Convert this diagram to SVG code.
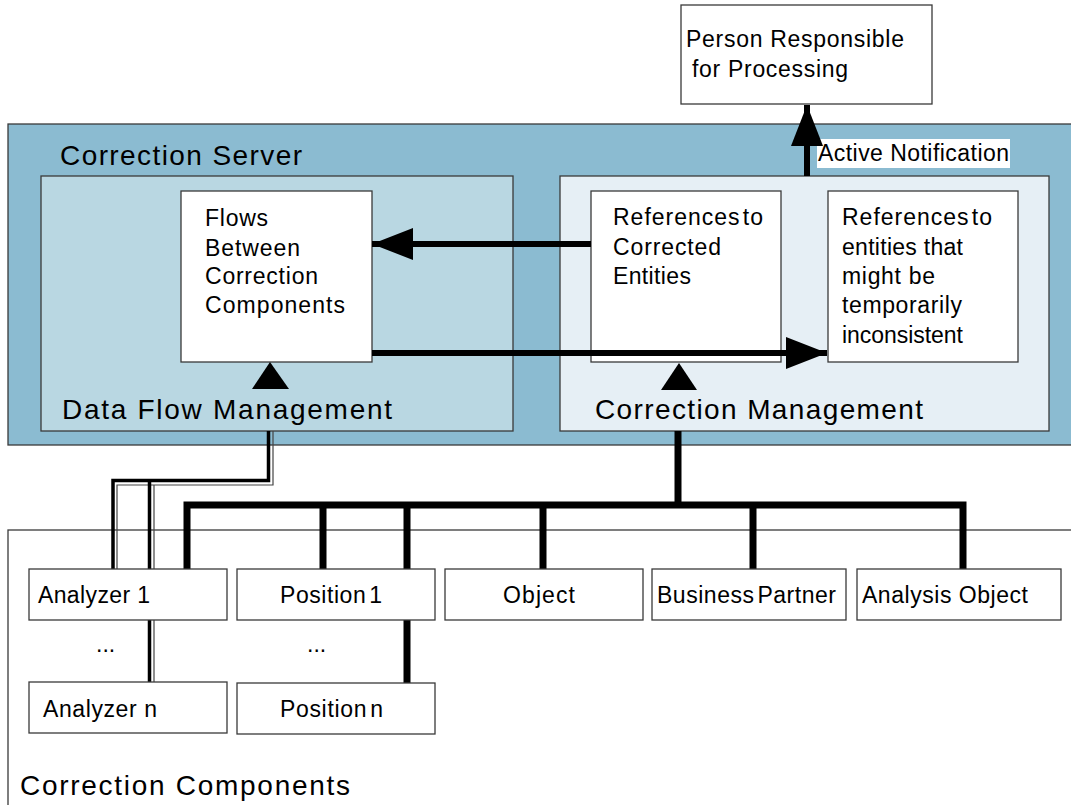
<svg xmlns="http://www.w3.org/2000/svg" width="1071" height="805" viewBox="0 0 1071 805">
<style>
  .box { fill: #ffffff; stroke: #3a3a3a; stroke-width: 1.3; }
  .t { font-family: "Liberation Sans", Arial, sans-serif; font-size: 23px; fill: #000; }
  .big { font-family: "Liberation Sans", Arial, sans-serif; font-size: 28px; fill: #000; }
  .thick { fill: none; stroke: #000; stroke-width: 7; }
  .arrow { fill: none; stroke: #000; stroke-width: 6; }
  .dbl { fill: none; stroke: #000; stroke-width: 3.5; }
  .thin { fill: none; stroke: #444; stroke-width: 1.2; }
</style>
<defs>
  <marker id="head" markerUnits="userSpaceOnUse" markerWidth="41" markerHeight="32" refX="41" refY="16" orient="auto">
    <path d="M0,0 L41,16 L0,32 Z" fill="#000"/>
  </marker>
</defs>
<rect width="1071" height="805" fill="#ffffff"/>

<g id="correction-server">
  <rect x="8" y="124" width="1075" height="321" fill="#8BBBD1" stroke="#3a3a3a" stroke-width="1.3"/>
  <text class="big" x="60" y="165" textLength="242" lengthAdjust="spacing">Correction Server</text>
</g>

<g id="data-flow-management">
  <rect x="41" y="176" width="472" height="255" fill="#B9D7E2" stroke="#3a3a3a" stroke-width="1.3"/>
  <text class="big" x="62" y="419" textLength="330" lengthAdjust="spacing">Data Flow Management</text>
</g>

<g id="correction-management">
  <rect x="560" y="176" width="489" height="255" fill="#E6EFF5" stroke="#3a3a3a" stroke-width="1.3"/>
  <text class="big" x="595" y="419" textLength="328" lengthAdjust="spacing">Correction Management</text>
</g>

<g id="flows-between">
  <rect class="box" x="181" y="191" width="191" height="171"/>
  <text class="t" x="205" y="226" textLength="63" lengthAdjust="spacing">Flows</text>
  <text class="t" x="205" y="256" textLength="95" lengthAdjust="spacing">Between</text>
  <text class="t" x="205" y="284" textLength="113" lengthAdjust="spacing">Correction</text>
  <text class="t" x="205" y="313" textLength="140" lengthAdjust="spacing">Components</text>
</g>

<g id="refs-corrected">
  <rect class="box" x="591" y="191" width="190" height="171"/>
  <text class="t" x="613" y="225" textLength="150" lengthAdjust="spacing" word-spacing="-5">References to</text>
  <text class="t" x="613" y="255" textLength="108" lengthAdjust="spacing">Corrected</text>
  <text class="t" x="613" y="284" textLength="78" lengthAdjust="spacing">Entities</text>
</g>

<g id="refs-inconsistent">
  <rect class="box" x="828" y="191" width="190" height="171"/>
  <text class="t" x="842" y="225" textLength="150" lengthAdjust="spacing" word-spacing="-5">References to</text>
  <text class="t" x="842" y="255" textLength="121" lengthAdjust="spacing">entities that</text>
  <text class="t" x="842" y="284" textLength="93" lengthAdjust="spacing">might be</text>
  <text class="t" x="842" y="313" textLength="120" lengthAdjust="spacing">temporarily</text>
  <text class="t" x="842" y="343" textLength="121" lengthAdjust="spacing">inconsistent</text>
</g>

<g id="person-responsible">
  <rect class="box" x="681" y="5" width="251" height="99"/>
  <text class="t" x="686" y="47" textLength="218" lengthAdjust="spacing">Person Responsible</text>
  <text class="t" x="692" y="77" textLength="156" lengthAdjust="spacing">for Processing</text>
</g>

<g id="active-notification-label">
  <rect x="817" y="139" width="193" height="29" fill="#ffffff"/>
  <text class="t" x="818" y="161" textLength="191" lengthAdjust="spacing">Active Notification</text>
</g>

<g id="correction-components">
  <rect x="8" y="530" width="1075" height="290" fill="#ffffff" stroke="#3a3a3a" stroke-width="1.3"/>
  <text class="big" x="20" y="795" textLength="330" lengthAdjust="spacing">Correction Components</text>
  <text class="t" x="96" y="652">...</text>
  <text class="t" x="307" y="652">...</text>
</g>

<g id="connectors">
  <line class="arrow" x1="807" y1="176" x2="807" y2="105" stroke-width="7" marker-end="url(#head)"/>
  <line class="arrow" x1="591" y1="244" x2="372" y2="244" marker-end="url(#head)"/>
  <line class="arrow" x1="372" y1="353" x2="827" y2="353" marker-end="url(#head)"/>
  <polygon points="270,362 252,389 289,389" fill="#000"/>
  <polygon points="679,363 661,390 697,390" fill="#000"/>
  <path class="thick" d="M678,431 V505"/>
  <path class="thick" d="M187,569 V505 H963 V569"/>
  <path class="thick" d="M323,505 V569 M407,505 V569 M543,505 V569 M753,505 V569"/>
  <path class="thick" d="M407,620 V683"/>
  <path class="thin" d="M273,431 V485 H117 V569"/>
  <path class="thin" d="M154,485 V682"/>
  <path class="dbl" d="M268.5,431 V480.5 H113 V569"/>
  <path class="dbl" d="M149.5,480.5 V682"/>
</g>

<g id="analyzer-1">
  <rect class="box" x="29" y="569" width="198" height="51"/>
  <text class="t" x="38" y="603" textLength="112" lengthAdjust="spacing">Analyzer 1</text>
</g>
<g id="position-1">
  <rect class="box" x="237" y="569" width="198" height="51"/>
  <text class="t" x="280" y="603" textLength="102" lengthAdjust="spacing" word-spacing="-4">Position 1</text>
</g>
<g id="object">
  <rect class="box" x="445" y="569" width="198" height="51"/>
  <text class="t" x="503" y="603" textLength="72" lengthAdjust="spacing">Object</text>
</g>
<g id="business-partner">
  <rect class="box" x="652" y="569" width="194" height="51"/>
  <text class="t" x="657" y="603" textLength="179" lengthAdjust="spacing" word-spacing="-4">Business Partner</text>
</g>
<g id="analysis-object">
  <rect class="box" x="857" y="569" width="204" height="51"/>
  <text class="t" x="862" y="603" textLength="166" lengthAdjust="spacing">Analysis Object</text>
</g>
<g id="analyzer-n">
  <rect class="box" x="29" y="682" width="198" height="51"/>
  <text class="t" x="43" y="717" textLength="114" lengthAdjust="spacing">Analyzer n</text>
</g>
<g id="position-n">
  <rect class="box" x="237" y="683" width="198" height="51"/>
  <text class="t" x="280" y="717" textLength="103" lengthAdjust="spacing" word-spacing="-4">Position n</text>
</g>
</svg>
